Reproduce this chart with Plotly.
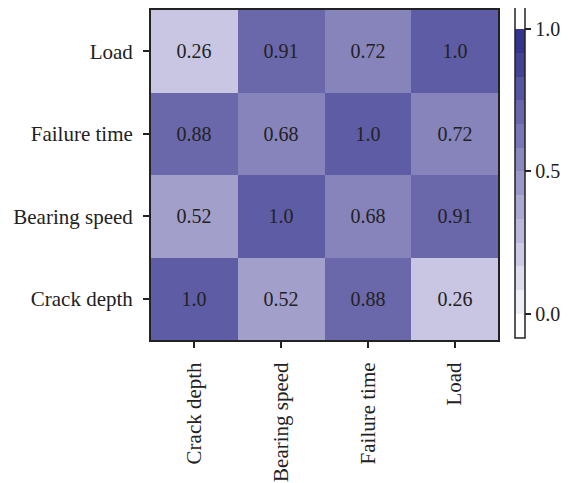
import plotly.graph_objects as go

categories = ["Crack depth", "Bearing speed", "Failure time", "Load"]
# rows bottom -> top: Crack depth, Bearing speed, Failure time, Load
z_values = [
    [1.0, 0.52, 0.88, 0.26],
    [0.52, 1.0, 0.68, 0.91],
    [0.88, 0.68, 1.0, 0.72],
    [0.26, 0.91, 0.72, 1.0],
]
z_text = [
    ["1.0", "0.52", "0.88", "0.26"],
    ["0.52", "1.0", "0.68", "0.91"],
    ["0.88", "0.68", "1.0", "0.72"],
    ["0.26", "0.91", "0.72", "1.0"],
]
colorbar_ticks = [0.0, 0.5, 1.0]
colorbar_ticklabels = ["0.0", "0.5", "1.0"]

# discrete colour levels (12 bands between 0 and 1), white beyond
band_colors = [
    (238, 238, 246), (221, 220, 237), (204, 202, 228), (187, 184, 220),
    (171, 168, 210), (155, 152, 201), (139, 135, 191), (122, 118, 182),
    (105, 102, 172), (87, 84, 160), (69, 66, 149), (53, 52, 143),
]
zmin, zmax = -0.0845, 1.0845


def norm(v):
    return (v - zmin) / (zmax - zmin)


white = "rgb(255,255,255)"
n = len(band_colors)
scale = [[0.0, white], [norm(0.0), white]]
for k, c in enumerate(band_colors):
    col = "rgb(%d,%d,%d)" % c
    lo = norm(k / n)
    hi = norm((k + 1) / n) + (1e-4 if k == n - 1 else 0.0)
    scale.append([lo, col])
    scale.append([hi, col])
scale.append([norm(1.0) + 1e-4, white])
scale.append([1.0, white])

font_family = "Liberation Serif"
ink = "#222222"

fig = go.Figure(
    go.Heatmap(
        z=z_values,
        x=categories,
        y=categories,
        text=z_text,
        texttemplate="%{text}",
        textfont=dict(family=font_family, size=20, color=ink),
        colorscale=scale,
        zmin=zmin,
        zmax=zmax,
        opacity=0.8,
        hoverinfo="skip",
        colorbar=dict(
            thickness=10,
            lenmode="pixels",
            len=333,
            x=1.049,
            xanchor="left",
            xpad=0,
            y=0.511,
            yanchor="middle",
            ypad=0,
            outlinecolor=ink,
            outlinewidth=1.5,
            tickmode="array",
            tickvals=colorbar_ticks,
            ticktext=colorbar_ticklabels,
            ticks="outside",
            ticklen=6,
            tickwidth=1.5,
            tickcolor=ink,
            tickfont=dict(family=font_family, size=20, color=ink),
        ),
    )
)

axis_common = dict(
    showline=True,
    linecolor=ink,
    linewidth=2,
    mirror=True,
    ticks="outside",
    ticklen=6,
    tickwidth=2,
    tickcolor=ink,
    showgrid=False,
    zeroline=False,
    automargin=False,
    tickfont=dict(family=font_family, size=21, color=ink),
)

fig.update_layout(
    width=568,
    height=483,
    margin=dict(l=143, r=78, t=2, b=151, autoexpand=False),
    paper_bgcolor="white",
    plot_bgcolor="white",
    xaxis=dict(**axis_common, tickangle=-90, ticklabelstandoff=6),
    yaxis=dict(**axis_common, ticklabelstandoff=6),
)

fig.write_html("out.html")
